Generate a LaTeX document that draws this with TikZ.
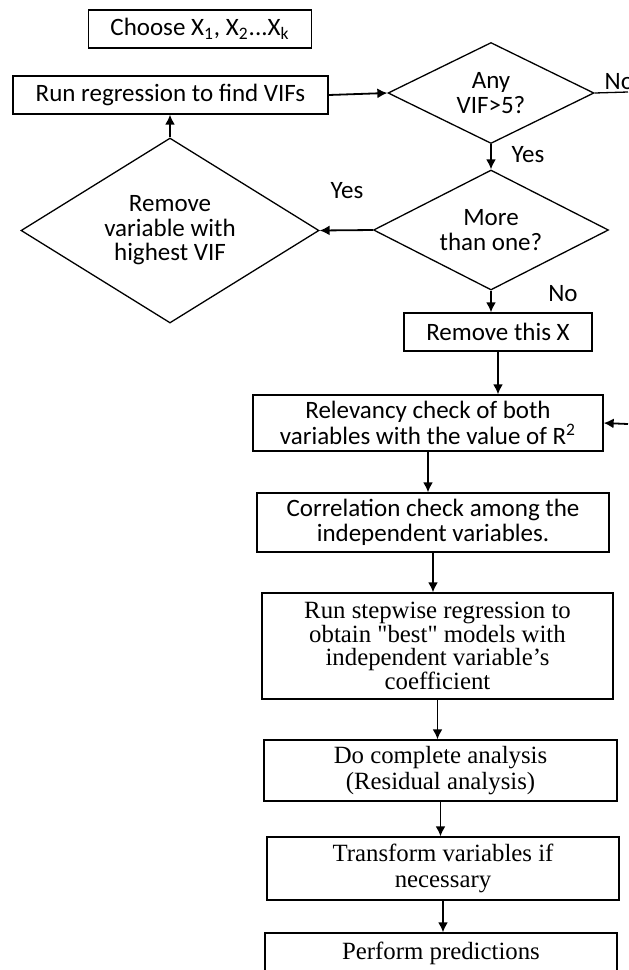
\documentclass[tikz,border=0pt]{standalone}
\usepackage{fontspec}
\setmainfont{Liberation Serif}
\newfontfamily\timesfont{Liberation Serif}
\newfontfamily\calibri{Carlito}
\usetikzlibrary{shapes.geometric, arrows.meta, positioning}
\tikzset{
    sansbox/.style={draw, inner sep=0pt, align=center, font=\calibri\fontsize{12.5}{12.5}\selectfont},
    serifbox/.style={draw, inner sep=0pt, align=center, font=\timesfont\fontsize{12.4}{11.8}\selectfont},
    decision/.style={diamond, draw, aspect=2, inner sep=0pt, align=center, font=\calibri\fontsize{12.5}{12.3}\selectfont},
    answer/.style={inner sep=0pt, font=\calibri\fontsize{12.5}{12.5}\selectfont}
}

\begin{document}
\begin{tikzpicture}[x=0.5pt, y=-0.5pt, >={Latex[length=5pt, width=5pt]}, line width=0.65pt]
    \useasboundingbox (0,0) rectangle (628,970);

    % upper part: VIF loop
    \node[sansbox, minimum width=111.5pt, minimum height=19pt] (choose) at (200, 29) {Choose X\textsubscript{1}, X\textsubscript{2}...X\textsubscript{k}};
    \node[sansbox, minimum width=157.5pt, minimum height=19pt] (run) at (170.5, 95) {Run regression to find VIFs};
    \node[decision, minimum width=103pt, minimum height=50.5pt] (any) at (491, 93) {\raisebox{-1.5pt}{Any}\\\raisebox{-1.5pt}{VIF>5?}};
    \node[decision, minimum width=117.5pt, minimum height=60pt] (more) at (491, 230) {More\\than one?};
    \node[decision, minimum width=149pt, minimum height=92.5pt] (remove) at (170, 230.5) {Remove\\variable with\\highest VIF};
    \node[sansbox, minimum width=94pt, minimum height=19pt] (removex) at (498, 332) {Remove this X};

    \node[answer, anchor=south west] (no1) at (604, 90) {No};
    \node[answer] (yes1) at (528, 155) {Yes};
    \node[answer] (yes2) at (347, 191) {Yes};
    \node[answer] (no2) at (563, 294) {No};
    \coordinate (noend) at (628, 92);

    % lower part
    \node[sansbox, minimum width=175pt, minimum height=28pt, font=\calibri\fontsize{12.5}{13}\selectfont] (relev) at (428, 423) {Relevancy check of both\\variables with the value of R\textsuperscript{2}};
    \coordinate (back) at (628, 424);
    \node[sansbox, minimum width=176pt, minimum height=29.5pt] (corr) at (433, 522.5) {Correlation check among the\\independent variables.};
    \node[serifbox, minimum width=175.5pt, minimum height=53pt] (stepwise) at (437.5, 646) {Run stepwise regression to\\obtain "best" models with\\independent variable’s\\coefficient};
    \node[serifbox, minimum width=176.5pt, minimum height=30.5pt, font=\timesfont\fontsize{12.4}{13}\selectfont] (complete) at (440.5, 770.5) {Do complete analysis\\(Residual analysis)};
    \node[serifbox, minimum width=176pt, minimum height=31.5pt, font=\timesfont\fontsize{12.4}{13}\selectfont] (transform) at (443, 868.5) {Transform variables if\\necessary};
    \node[serifbox, minimum width=176pt, minimum height=20pt] (predict) at (441, 953) {Perform predictions};

    \draw[line width=0.9pt]
    (run.east) edge[->] (any.west)
    (any.south) edge[->] (any.south |- more.north)
    (more.west) edge[->] (remove.east)
    (remove.north) edge[->] (remove.north |- run.south)
    (more.south) edge[->] (more.south |- removex.north)
    (removex.south) edge[->] (removex.south |- relev.north)
    (back) edge[->] (relev.east)
    (relev.south) edge[->] (relev.south |- corr.north)
    (corr.south) edge[->] (corr.south |- stepwise.north)
    (stepwise.south) edge[->] (stepwise.south |- complete.north)
    (complete.south) edge[->] (complete.south |- transform.north)
    (transform.south) edge[->] (transform.south |- predict.north);
    \draw (any.east) -- (noend);
\end{tikzpicture}
\end{document}
